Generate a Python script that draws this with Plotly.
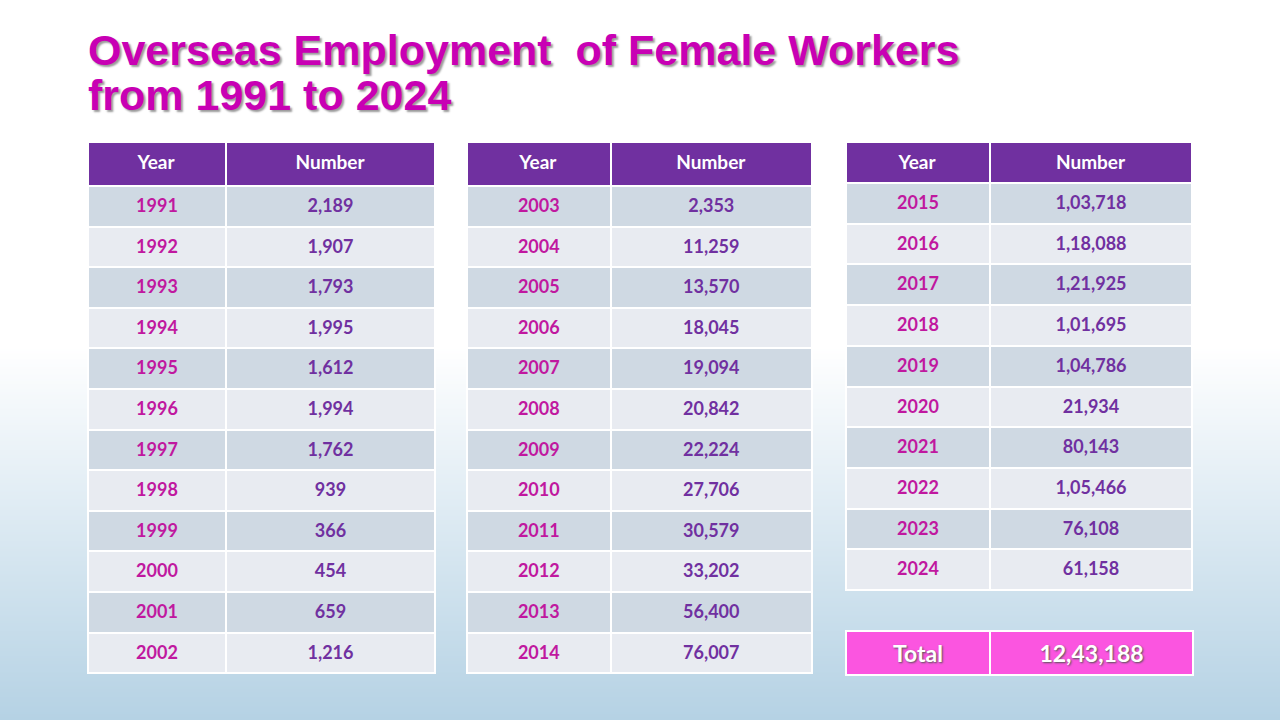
import plotly.graph_objects as go

years_1 = ["1991","1992","1993","1994","1995","1996","1997","1998","1999","2000","2001","2002"]
numbers_1 = ["2,189","1,907","1,793","1,995","1,612","1,994","1,762","939","366","454","659","1,216"]
years_2 = ["2003","2004","2005","2006","2007","2008","2009","2010","2011","2012","2013","2014"]
numbers_2 = ["2,353","11,259","13,570","18,045","19,094","20,842","22,224","27,706","30,579","33,202","56,400","76,007"]
years_3 = ["2015","2016","2017","2018","2019","2020","2021","2022","2023","2024"]
numbers_3 = ["1,03,718","1,18,088","1,21,925","1,01,695","1,04,786","21,934","80,143","1,05,466","76,108","61,158"]
headers = ["Year", "Number"]
total_label = "Total"
total_value = "12,43,188"
title_lines = ["Overseas Employment  of Female Workers", "from 1991 to 2024"]

W, H = 1280, 720
PURPLE = "#7030a0"
MAGENTA = "#c0189f"
ROW_A = "#cfd9e3"
ROW_B = "#e8ebf1"
FONT = "Lato"

def px_x(x):
    return x / W

def px_y(y):
    return 1 - y / H

fig = go.Figure()

# background gradient
fig.add_trace(go.Heatmap(
    z=[[0, 0], [0, 0], [1, 1]], x=[-0.05, 1.05], y=[1.05, 0.52, -0.02],
    zsmooth="best", showscale=False, hoverinfo="skip",
    colorscale=[[0, "#ffffff"], [1, "#b2d0e3"]],
    xaxis="x", yaxis="y",
))

def add_table(years, nums, x0, xm, x1, y0, y1, head_h, cell_h):
    n = len(years)
    fills = [ROW_A if i % 2 == 0 else ROW_B for i in range(n)]
    fig.add_trace(go.Table(
        domain=dict(x=[px_x(x0), px_x(x1)], y=[px_y(y1), px_y(y0)]),
        columnwidth=[xm - x0, x1 - xm],
        header=dict(values=[f"<b>{h}</b>" for h in headers], fill_color=PURPLE,
                    font=dict(family=FONT, size=19, color="white"),
                    align="center", height=head_h, line=dict(color="white", width=2)),
        cells=dict(values=[[f"<b>{y}</b>" for y in years], [f"<b>{v}</b>" for v in nums]],
                   fill_color=[fills, fills],
                   font=dict(family=FONT, size=18, color=[MAGENTA, PURPLE]),
                   align="center", height=cell_h, line=dict(color="white", width=2)),
    ))

add_table(years_1, numbers_1, 88, 226, 435, 142, 678, 44, 40.6)
add_table(years_2, numbers_2, 467, 611, 813, 142, 678, 44, 40.6)
add_table(years_3, numbers_3, 846, 990, 1192, 142, 596, 41, 40.7)

# total row
fig.add_trace(go.Table(
    domain=dict(x=[px_x(846), px_x(1193)], y=[px_y(680), px_y(631)]),
    columnwidth=[990 - 846, 1193 - 990],
    header=dict(values=[f"<b>{total_label}</b>", f"<b>{total_value}</b>"],
                fill_color="#fb55e0",
                font=dict(family=FONT, size=23, color="white", shadow="1px 1px 2px #555"),
                align="center", height=42, line=dict(color="white", width=2)),
    cells=dict(values=[[], []]),
))

for i, (line, yc) in enumerate(zip(title_lines, [50, 95])):
    fig.add_annotation(
        text=f"<b>{line}</b>",
        x=px_x(86), y=px_y(yc), xref="paper", yref="paper",
        xanchor="left", yanchor="middle", align="left", showarrow=False,
        font=dict(family="Liberation Sans", size=43, color="#c800b4", shadow="2px 2px 2px #9a9a9a"),
    )

fig.update_layout(
    width=W, height=H, margin=dict(l=0, r=0, t=0, b=0),
    paper_bgcolor="white", plot_bgcolor="white",
    xaxis=dict(domain=[0, 1], range=[0, 1], visible=False, fixedrange=True),
    yaxis=dict(domain=[0, 1], range=[0, 1], visible=False, fixedrange=True),
    showlegend=False,
)

fig.write_html("out.html", config={"displayModeBar": False},
               post_script="document.body.style.margin='0';document.body.style.overflow='hidden';")
